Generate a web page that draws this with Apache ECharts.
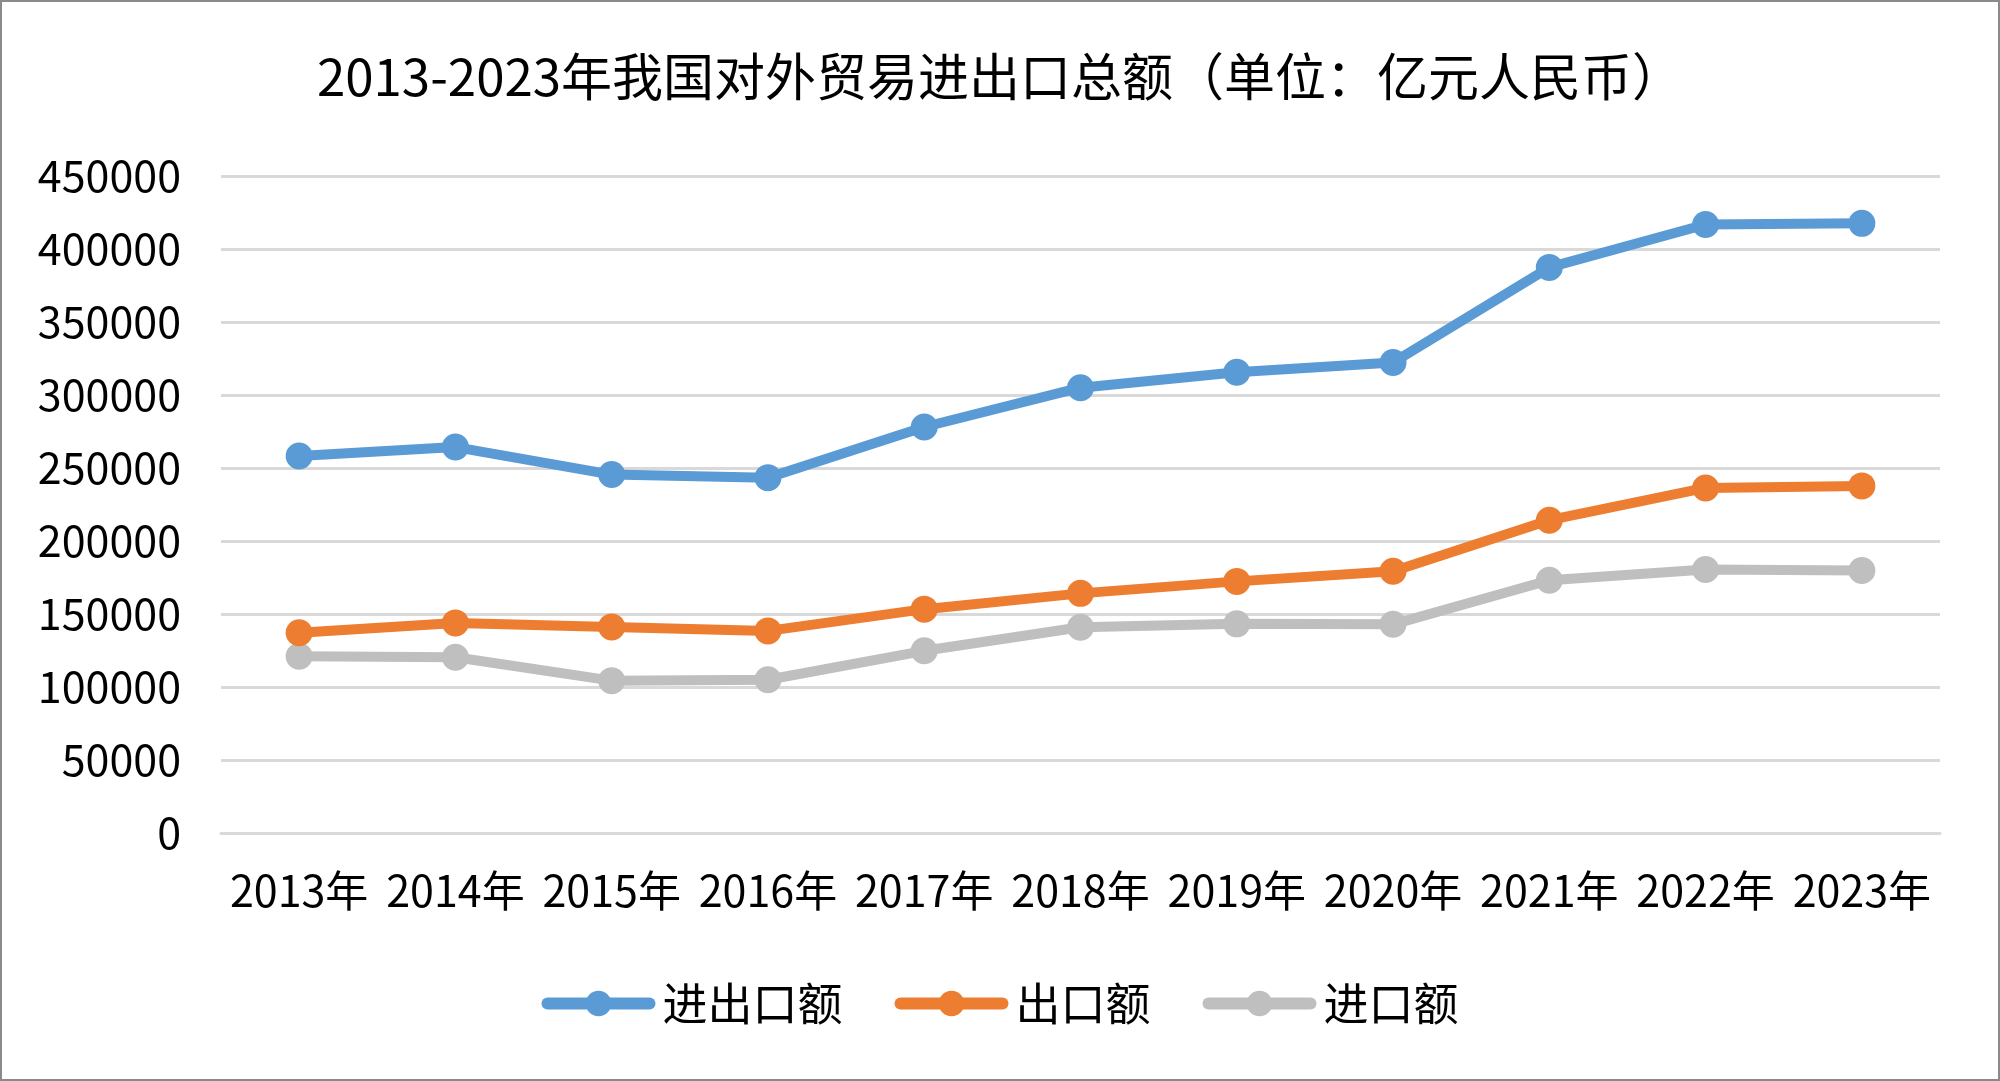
<!DOCTYPE html>
<html>
<head>
<meta charset="utf-8">
<script src="https://cdn.jsdelivr.net/npm/echarts@6/dist/echarts.min.js"></script>
<style>
html,body{margin:0;padding:0;background:#fff;}
#wrap{width:2000px;height:1081px;box-sizing:border-box;border:2px solid #8a8a8a;position:relative;}
#chart{position:absolute;left:-2px;top:-2px;width:2000px;height:1081px;}
</style>
</head>
<body>
<div id="wrap"><div id="chart"></div></div>
<script>
const titleText = '2013-2023年我国对外贸易进出口总额（单位：亿元人民币）';
const categories = ['2013年','2014年','2015年','2016年','2017年','2018年','2019年','2020年','2021年','2022年','2023年'];
const seriesNames = ['进出口额','出口额','进口额'];
const totalValues = [258169, 264334, 245503, 243386, 278099, 305010, 315627, 322215, 387392, 416800, 417568];
const exportValues = [137131, 143912, 141167, 138419, 153309, 164128, 172342, 179279, 214255, 236337, 237726];
const importValues = [121037, 120358, 104336, 104967, 124790, 140881, 143254, 142936, 173137, 180463, 179842];
const colors = ['#5B9BD5', '#ED7D31', '#BFBFBF'];
const yMin = 0, yMax = 450000, yInterval = 50000;

const font = '"Noto Sans CJK SC", "Noto Sans", sans-serif';
const chart = echarts.init(document.getElementById('chart'));
const dataSets = [totalValues, exportValues, importValues];

chart.setOption({
  backgroundColor: 'transparent',
  animation: false,
  title: {
    text: titleText,
    left: 'center',
    top: 46,
    textStyle: { fontFamily: font, fontSize: 51, fontWeight: 'normal', color: '#000' }
  },
  legend: {
    data: seriesNames,
    bottom: 50,
    left: 'center',
    itemWidth: 102,
    itemHeight: 32,
    itemGap: 52,
    textStyle: { fontFamily: font, fontSize: 45, color: '#000', padding: [0, 0, 0, 8] },
    lineStyle: { width: 12, cap: 'round' }
  },
  grid: { left: 221, right: 60, top: 176, bottom: 248, containLabel: false },
  xAxis: {
    type: 'category',
    data: categories,
    boundaryGap: true,
    axisLine: { show: true, lineStyle: { color: '#D9D9D9', width: 3 } },
    axisTick: { show: false },
    axisLabel: { fontFamily: font, fontSize: 43, color: '#000', margin: 36, interval: 0 }
  },
  yAxis: {
    type: 'value',
    min: yMin, max: yMax, interval: yInterval,
    axisLine: { show: false },
    axisTick: { show: false },
    splitLine: { lineStyle: { color: '#D9D9D9', width: 3 } },
    axisLabel: { fontFamily: font, fontSize: 43, color: '#000', margin: 40, formatter: v => String(v) }
  },
  series: seriesNames.map((name, i) => ({
    name: name,
    type: 'line',
    data: dataSets[i],
    symbol: 'circle',
    symbolSize: 27,
    showSymbol: true,
    z: 10 - i,
    itemStyle: { color: colors[i] },
    lineStyle: { color: colors[i], width: 10, cap: 'round', join: 'round' }
  }))
});
</script>
</body>
</html>
